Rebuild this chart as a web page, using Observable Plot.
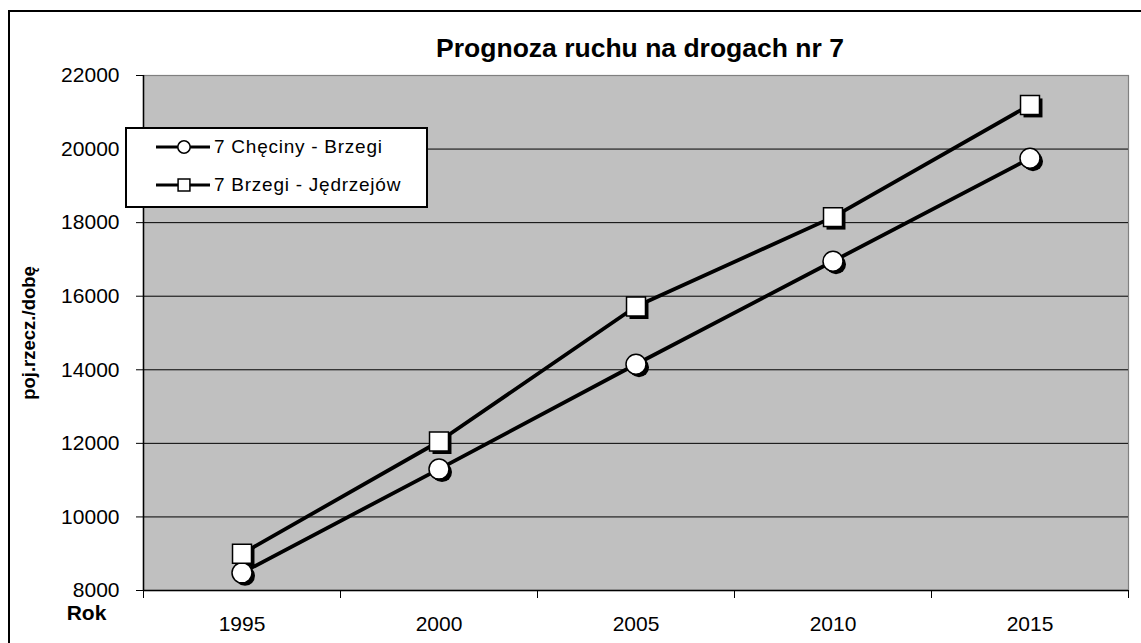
<!DOCTYPE html>
<html>
<head>
<meta charset="utf-8">
<script src="https://cdn.jsdelivr.net/npm/d3@7"></script>
<script src="https://cdn.jsdelivr.net/npm/@observablehq/plot@0.6"></script>
<style>
  html, body { margin: 0; padding: 0; background: #fff; overflow: hidden; }
  #wrap { position: relative; width: 1141px; height: 643px; overflow: hidden; font-family: "Liberation Sans", Arial, sans-serif; }
  #wrap svg.plot { position: absolute; left: 0; top: 0; }
  #border { position: absolute; left: 8px; top: 10px; width: 2000px; height: 2000px; border-left: 2px solid #000; border-top: 2px solid #000; }
  #legend { position: absolute; left: 125px; top: 127px; width: 299px; height: 77px; border: 2px solid #000; background: #fff; }
  .row { position: absolute; left: 0; height: 30px; display: flex; align-items: center; font-size: 19px; color: #000; }
  .row svg { display: block; }
  .row span { margin-left: 3px; letter-spacing: 0.75px; white-space: nowrap; }
</style>
</head>
<body>
<div id="wrap"><div id="border"></div></div>
<script>
const title = "Prognoza ruchu na drogach nr 7";
const yLabel = "poj.rzecz./dobę";
const xLabel = "Rok";
const years = [1995, 2000, 2005, 2010, 2015];
const seriesNames = ["7 Chęciny - Brzegi", "7 Brzegi - Jędrzejów"];
const checinyBrzegi = [8480, 11300, 14150, 16950, 19750];
const brzegiJedrzejow = [9000, 12050, 15720, 18150, 21200];
const yTicks = [8000, 10000, 12000, 14000, 16000, 18000, 20000, 22000];
const symbols = ["circle", "square"];

const data = years.flatMap((yr, i) => [
  {year: yr, value: checinyBrzegi[i], series: seriesNames[0]},
  {year: yr, value: brzegiJedrzejow[i], series: seriesNames[1]}
]);
const half = (years[1] - years[0]) / 2;
const bounds = [...years.map(y => y - half), years[years.length - 1] + half];
const circles = data.filter(d => d.series === seriesNames[0]);
const squares = data.filter(d => d.series === seriesNames[1]);

const chart = Plot.plot({
  width: 1141,
  height: 643,
  marginLeft: 143,
  marginRight: 13,
  marginTop: 75,
  marginBottom: 53,
  style: {fontFamily: "'Liberation Sans', Arial, sans-serif", fontSize: "20px", color: "#000", background: "transparent"},
  x: {domain: [bounds[0], bounds[bounds.length - 1]]},
  y: {domain: [yTicks[0], yTicks[yTicks.length - 1]]},
  marks: [
    Plot.frame({fill: "#c0c0c0", stroke: "#808080", strokeWidth: 1.2}),
    Plot.ruleY(yTicks.slice(1, -1), {stroke: "#000", strokeWidth: 1}),
    Plot.ruleY([yTicks[0]], {stroke: "#000", strokeWidth: 1.5}),
    Plot.ruleX([bounds[0]], {stroke: "#000", strokeWidth: 1.5}),
    Plot.axisY({ticks: yTicks, tickSize: 7, tickPadding: 17, tickFormat: d => String(d), label: null, fontSize: 21}),
    Plot.axisX({ticks: bounds, tickSize: 8, tickFormat: () => "", label: null}),
    Plot.axisX({ticks: years, tickSize: 0, tickPadding: 26, tickFormat: d => String(d), label: null, fontSize: 21}),
    Plot.line(data, {x: "year", y: "value", z: "series", stroke: "#000", strokeWidth: 3.8}),
    Plot.dot(circles, {x: "year", y: "value", symbol: "circle", r: 10, fill: "#000", dx: 3, dy: 3}),
    Plot.dot(squares, {x: "year", y: "value", symbol: "square", r: 10.7, fill: "#000", dx: 3, dy: 3}),
    Plot.dot(circles, {x: "year", y: "value", symbol: "circle", r: 10, fill: "#fff", stroke: "#000", strokeWidth: 1.5}),
    Plot.dot(squares, {x: "year", y: "value", symbol: "square", r: 10.7, fill: "#fff", stroke: "#000", strokeWidth: 1.5}),
    Plot.text([title], {frameAnchor: "top", dx: 4, dy: -37, fontWeight: "bold", fontSize: 26.5, letterSpacing: 0.7}),
    Plot.text([xLabel], {frameAnchor: "bottom-left", dx: -57, dy: 29, fontWeight: "bold", fontSize: 21, textAnchor: "middle"}),
    Plot.text([yLabel], {frameAnchor: "left", dx: -114, rotate: -90, fontWeight: "bold", fontSize: 18.5, textAnchor: "middle"})
  ]
});
chart.setAttribute("class", (chart.getAttribute("class") || "") + " plot");
const wrap = document.getElementById("wrap");
wrap.appendChild(chart);

// legend
const legend = document.createElement("div");
legend.id = "legend";
seriesNames.forEach((name, i) => {
  const row = document.createElement("div");
  row.className = "row";
  row.style.top = (i === 0 ? 3 : 41) + "px";
  row.style.left = "28px";
  const s = d3.create("svg").attr("width", 56).attr("height", 30);
  s.append("line").attr("x1", 1).attr("x2", 55).attr("y1", 15).attr("y2", 15).attr("stroke", "#000").attr("stroke-width", 3);
  const sym = d3.symbol().type(symbols[i] === "circle" ? d3.symbolCircle : d3.symbolSquare).size(symbols[i] === "circle" ? 120 : 140);
  s.append("path").attr("d", sym()).attr("transform", "translate(29,15)").attr("fill", "#fff").attr("stroke", "#000").attr("stroke-width", 1.5);
  row.appendChild(s.node());
  const t = document.createElement("span");
  t.textContent = name;
  row.appendChild(t);
  legend.appendChild(row);
});
wrap.appendChild(legend);
</script>
</body>
</html>
